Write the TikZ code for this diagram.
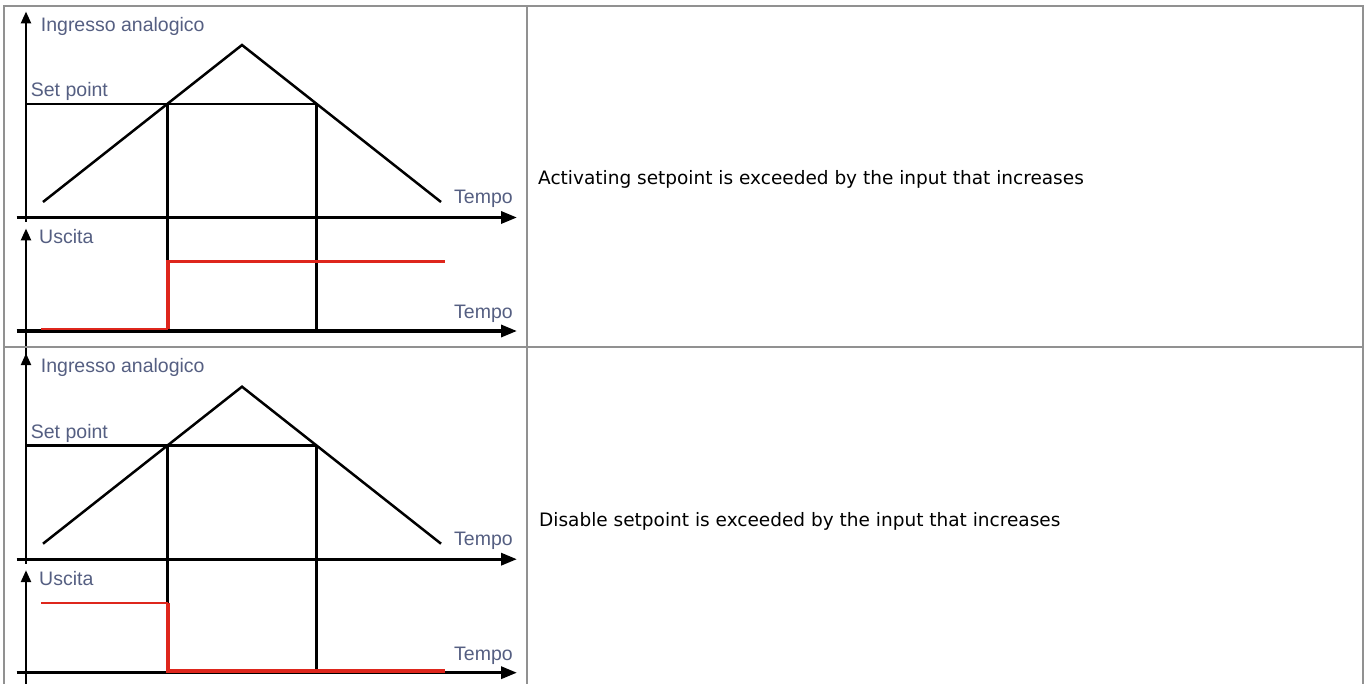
\documentclass[tikz,border=0pt]{standalone}
\usepackage{fontspec}
\setmainfont{DejaVu Sans}
\newfontfamily\lblfont{Liberation Sans}
\usetikzlibrary{arrows.meta}
\definecolor{tablegray}{RGB}{145,145,145}
\definecolor{sigred}{RGB}{222,38,28}
\definecolor{lbl}{RGB}{85,95,130}
\tikzset{
  haxis/.style={line width=3.3pt, -{Triangle[length=16pt,width=12pt]}},
  vaxis/.style={line width=2.5pt, -{Triangle[length=12pt,width=10pt]}},
  curve/.style={line width=2.5pt, line join=miter},
  marker/.style={line width=2.8pt},
  sigthin/.style={sigred, line width=2.4pt},
  sigthick/.style={sigred, line width=3.3pt},
  lbltext/.style={font=\lblfont\fontsize{19.5}{20}\selectfont, text=lbl, inner sep=0pt, anchor=base west},
  desc/.style={font=\fontsize{18.5}{22}\selectfont, inner sep=0pt, anchor=base west},
  tableline/.style={tablegray, line width=2pt},
  chart/.pic={
    \coordinate (-ytop) at (26,11.5);
    \coordinate (-ybot) at (26,356);
    \coordinate (-utip) at (26,228.5);
    \coordinate (-x0) at (16.5,217.5);
    \coordinate (-x1) at (517,217.5);
    \coordinate (-u0) at (16.5,331);
    \coordinate (-u1) at (517,331);
    \coordinate (-s) at (43,202);
    \coordinate (-p) at (242,45);
    \coordinate (-e) at (441,202);
    \coordinate (-sp0) at (26,104);
    \coordinate (-sp1) at (317,104);
    \coordinate (-v1t) at (167.5,104);
    \coordinate (-v1b) at (167.5,331);
    \coordinate (-v2t) at (316.5,104);
    \coordinate (-v2b) at (316.5,331);
    \coordinate (-ymid) at (26,222);
    \draw[curve] (-s) -- (-p) -- (-e);
    \draw[curve] (-sp0) -- (-sp1);
    \draw[marker] (-v1t) -- (-v1b);
    \draw[marker] (-v2t) -- (-v2b);
    \draw[vaxis] (-ybot) -- (-utip);
    \draw[vaxis] (-ymid) -- (-ytop);
    \draw[haxis] (-x0) -- (-x1);
    \draw[haxis] (-u0) -- (-u1);
    \node[lbltext] (-in) at (40.7,31.3) {Ingresso analogico};
    \node[lbltext] (-sp) at (30.7,97) {Set point};
    \node[lbltext] (-t1) at (454,204) {Tempo};
    \node[lbltext] (-us) at (39,244) {Uscita};
    \node[lbltext] (-t2) at (454,319) {Tempo};
  }
}
\begin{document}
\begin{tikzpicture}[x=1pt,y=-1pt]
  \clip (0,0) rectangle (1371,684);
  \fill[white] (0,0) rectangle (1371,684);
  % top chart
  \pic (A) at (0,0) {chart};
  \coordinate (Ar0) at (41,329);
  \coordinate (Ar1) at (168,329);
  \coordinate (Ar2) at (168,261.5);
  \coordinate (Ar3) at (445,261.5);
  \draw[sigthin] (Ar0) -- (Ar1);
  \draw[sigthick, line join=miter] (Ar1) -- (Ar2) -- (Ar3);
  % bottom chart
  \pic (B) at (0,341.7) {chart};
  \coordinate (Br0) at (41,603.2);
  \coordinate (Br1) at (168,603.2);
  \coordinate (Br2) at (168,670.7);
  \coordinate (Br3) at (445,670.7);
  \draw[sigthin] (Br0) -- (Br1);
  \draw[sigthick, line width=3.6pt, line join=miter] (Br1) -- (Br2) -- (Br3);
  % table grid
  \coordinate (tl) at (4,6);
  \coordinate (tr) at (1363,6);
  \coordinate (bl) at (4,700);
  \coordinate (br) at (1363,700);
  \coordinate (dt) at (527,6);
  \coordinate (db) at (527,700);
  \coordinate (ml) at (4,347);
  \coordinate (mr) at (1363,347);
  \draw[tableline] (bl) -- (tl) -- (tr) -- (br);
  \draw[tableline] (dt) -- (db);
  \draw[tableline] (ml) -- (mr);
  % descriptions
  \node[desc] (d1) at (538,184.3) {Activating setpoint is exceeded by the input that increases};
  \node[desc] (d2) at (539,526.7) {Disable setpoint is exceeded by the input that increases};
\end{tikzpicture}
\end{document}
